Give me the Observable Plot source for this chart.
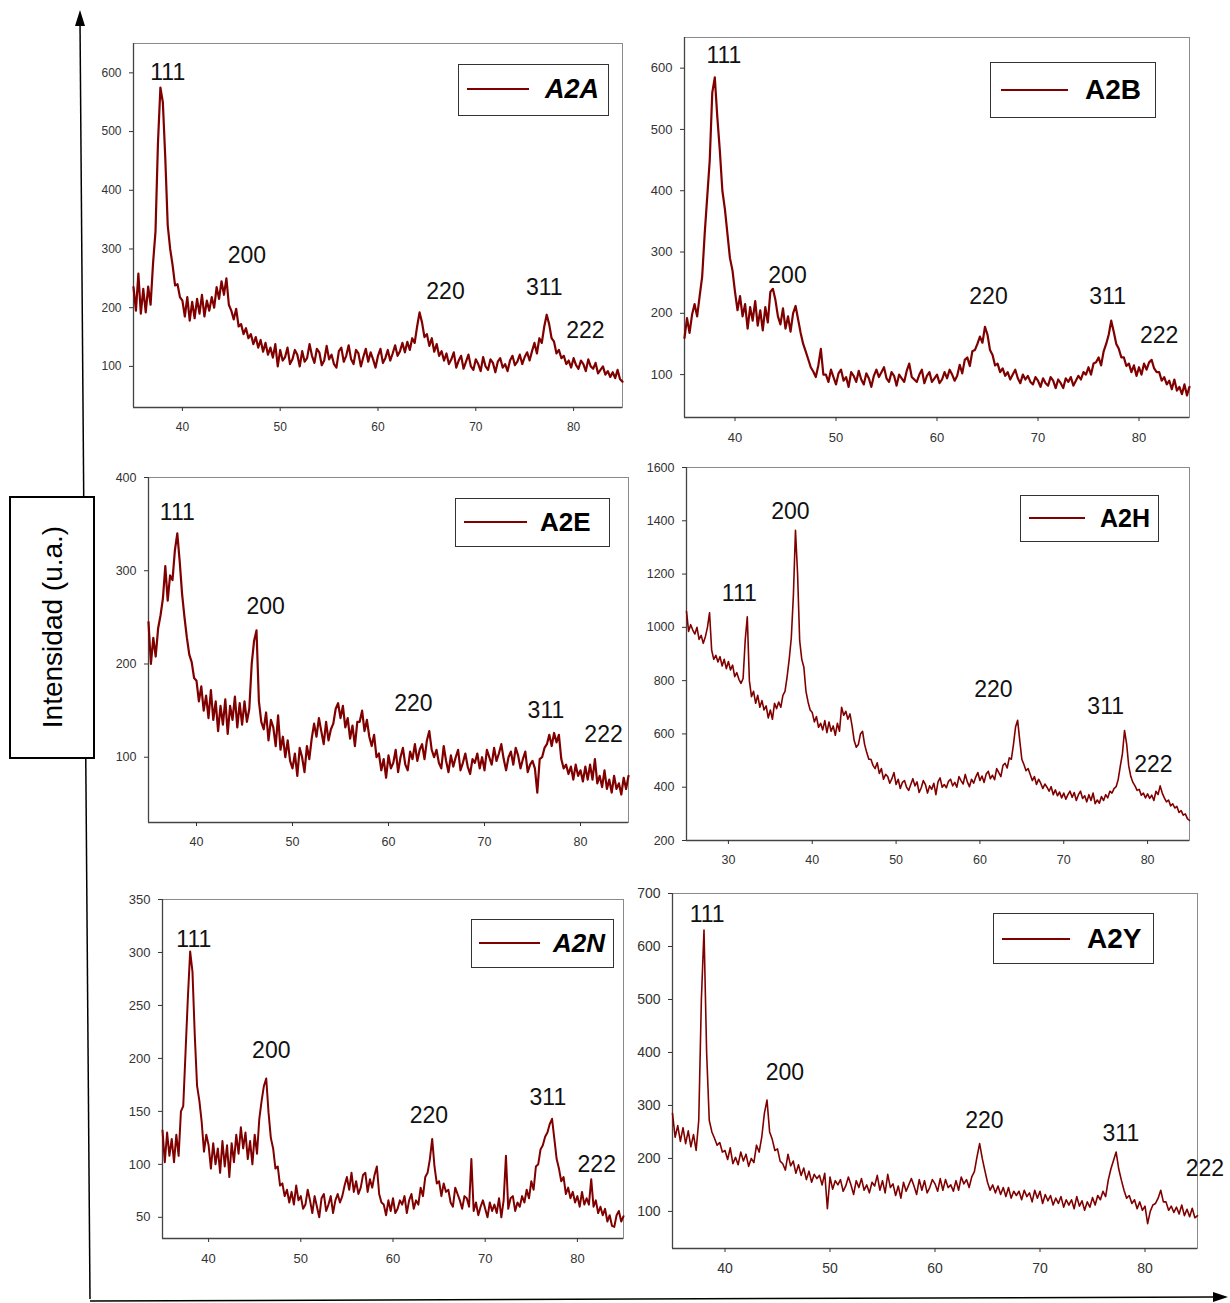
<!DOCTYPE html>
<html><head><meta charset="utf-8">
<script src="https://cdn.jsdelivr.net/npm/d3@7"></script>
<script src="https://cdn.jsdelivr.net/npm/@observablehq/plot@0.6"></script>
<style>
body{margin:0;background:#fff;}
#page{position:relative;width:1230px;height:1303px;overflow:hidden;background:#fff;font-family:"Liberation Sans",Arial,sans-serif;}
.panel{position:absolute;}
.legbox{position:absolute;border:1px solid #333;background:#fff;box-sizing:border-box;}
.legline{position:absolute;height:2px;background:#800000;}
.legtext{position:absolute;font-weight:bold;color:#000;line-height:1;white-space:nowrap;}
</style></head><body><div id="page"></div>
<script>
const STEP = 0.25;
// intensities sampled every 0.25 deg (2theta)
const a2aStart = 35;
const a2a = [
235,195,258,190, 232,192,236,205, 276,330,480,575, 550,455,340,300, 272,238,240,218,
212,185,218,178, 210,182,215,190, 222,185,212,195, 218,200,235,215, 245,222,250,205,
195,180,198,168, 172,155,165,148, 155,138,150,132, 145,125,140,120, 132,115,138,100,
128,110,116,132, 104,112,128,120, 100,126,108,114, 138,118,106,130, 124,102,110,135,
112,120,104,98, 126,132,108,118, 136,112,104,128, 122,100,116,130, 108,124,112,98,
118,130,106,114, 128,110,122,136, 118,126,140,124, 142,128,148,140, 168,192,175,150,
155,135,148,125, 138,118,126,110, 122,104,112,124, 98,110,118,96, 108,120,100,94,
112,104,92,116, 100,94,112,106, 90,108,114,98, 104,92,110,118, 102,108,120,104,
116,124,110,126, 140,122,148,140, 168,188,172,148, 142,122,128,114, 118,104,110,98,
114,102,96,110, 104,92,112,100, 96,106,88,94, 100,86,92,82, 90,80,94,78, 74];
const a2bStart = 35;
const a2b = [
160,192,168,198, 215,195,228,260, 330,390,450,560, 585,520,465,400, 370,330,290,270,
235,205,228,195, 215,175,210,188, 220,180,205,172, 210,185,235,240, 222,195,182,208,
175,195,170,200, 212,190,168,150, 138,125,112,105, 96,115,142,100, 100,88,108,96,
84,102,108,90, 96,80,104,98, 88,106,92,84, 102,94,80,98, 108,96,104,112,
94,88,104,98, 82,100,94,88, 106,118,96,92, 88,100,108,86, 98,104,88,94,
100,86,92,104, 94,108,100,90, 98,116,102,124, 128,114,138,140, 150,162,152,178,
165,140,132,115, 118,104,110,98, 104,92,100,108, 94,86,100,92, 98,88,84,96,
90,80,94,86, 82,96,90,78, 92,86,78,94, 88,96,82,90, 98,92,104,100,
112,100,118,120, 128,115,138,150, 165,188,170,150, 142,128,128,114, 118,104,115,98,
112,100,118,108, 120,124,110,104, 104,90,96,84, 90,76,92,74, 80,68,84,66, 80];
const a2eStart = 35;
const a2e = [
245,200,228,208, 238,252,270,305, 268,295,290,322, 340,310,275,250, 228,210,202,185,
182,160,176,150, 166,142,172,140, 160,128,155,135, 162,125,155,140, 165,132,158,135,
160,138,152,200, 225,236,160,138, 130,148,118,140, 132,112,145,108, 122,100,118,96,
88,104,80,110, 100,84,112,98, 120,136,122,142, 128,114,138,118, 130,136,152,158,
142,155,132,142, 120,134,112,138, 138,150,128,140, 122,112,124,100, 104,86,98,78,
102,88,94,108, 84,100,110,92, 86,106,98,114, 96,108,114,98, 118,128,108,100,
108,94,88,112, 96,84,102,90, 100,108,86,94, 104,90,82,98, 94,104,88,100,
86,108,100,92, 110,96,104,114, 98,86,100,106, 92,110,102,88, 98,106,84,92,
96,88,62,98, 100,110,114,124, 112,126,116,124, 98,88,92,82, 90,76,92,80,
86,74,90,76, 92,76,98,72, 80,68,86,66, 76,62,80,66, 72,60,78,66, 80];
const a2hStart = 25;
const a2h = [
1060,985,1010,990, 975,1000,955,970, 940,965,1000,1055, 915,880,895,870, 890,855,880,845,
872,840,858,815, 830,805,790,808, 950,1040,800,740, 760,715,745,700, 725,690,705,660,
690,655,715,695, 720,700,745,760, 814,880,960,1120, 1364,1200,950,880, 850,760,720,690,
680,645,665,625, 640,615,650,605, 645,610,630,595, 640,610,700,670, 685,655,675,630,
575,550,560,600, 610,560,530,505, 505,482,470,492, 452,470,430,448, 440,415,432,455,
410,430,395,418, 425,400,388,410, 432,405,420,380, 398,425,410,378, 405,392,415,372,
420,435,400,410, 398,422,430,405, 418,400,440,425, 412,448,420,402, 430,415,438,455,
425,442,418,450, 460,432,445,428, 470,455,440,482, 490,472,510,505, 560,626,651,576,
505,485,462,470, 448,425,440,410, 430,415,395,412, 400,385,402,372, 390,368,382,360,
378,355,372,385, 362,380,350,372, 385,358,368,345, 372,350,378,338, 352,340,365,350,
372,360,385,378, 395,402,430,480, 526,613,563,480, 440,418,405,388, 392,370,378,360,
375,358,370,350, 385,372,405,378, 360,345,352,330, 338,322,328,305, 312,295,300,282, 275];
const a2nStart = 35;
const a2n = [
132,102,130,108, 124,102,128,108, 150,155,206,257, 301,282,222,174, 160,140,112,128,
118,96,120,100, 115,92,122,98, 118,88,120,102, 128,110,135,115, 130,105,122,100,
128,110,143,160, 174,181,149,125, 115,96,98,80, 82,70,76,64, 74,62,80,66,
70,58,62,76, 66,54,70,60, 50,68,72,56, 62,70,54,66, 72,64,70,80,
88,76,92,74, 84,72,78,90, 92,74,86,78, 90,98,72,64, 62,52,66,56,
68,54,58,66, 62,70,54,66, 72,58,66,62, 78,70,88,92, 105,124,98,82,
84,70,82,74, 76,64,60,78, 72,66,58,70, 68,60,105,56, 64,52,60,66,
58,50,64,56, 62,54,68,50, 66,108,58,68, 70,56,64,60, 70,64,76,68,
84,76,98,100, 114,118,126,130, 138,143,124,105, 96,84,88,72, 78,68,74,64,
70,60,74,62, 68,62,86,60, 66,54,60,52, 58,46,52,42, 41,52,56,46, 51];
const a2yStart = 35;
const a2y = [
285,240,262,232, 258,228,252,222, 245,215,272,500, 631,400,272,250, 238,225,230,212,
215,198,220,190, 202,188,212,195, 208,185,200,192, 225,212,240,285, 310,250,236,215,
218,195,190,178, 208,186,195,172, 188,168,182,160, 176,155,170,162, 168,150,172,105,
165,142,158,150, 160,138,148,165, 150,132,158,145, 162,140,150,135, 155,148,168,140,
158,135,170,145, 152,130,148,125, 155,138,150,162, 148,132,160,140, 158,135,145,160,
152,138,162,140, 160,145,150,138, 158,140,165,152, 160,145,165,175, 203,228,200,177,
155,140,150,135, 148,132,145,128, 145,125,138,130, 138,122,140,128, 135,118,140,125,
138,115,132,120, 130,112,125,115, 128,108,122,112, 122,105,128,110, 120,102,118,108,
126,112,130,122, 138,128,159,180, 196,212,180,159, 140,125,130,115, 122,105,118,102,
110,77,100,112, 115,125,140,118, 118,102,110,98, 108,95,112,92, 104,90,106,88, 92];

// peak labels (Miller indices) in data coordinates
const hkl = ["111","200","220","311","222"];
const a2aLabX = [38.5, 46.6, 66.9, 77.0, 81.2], a2aLabY = [600, 289, 228, 234, 161];
const a2bLabX = [38.9, 45.2, 65.1, 76.9, 82.0], a2bLabY = [620, 261, 227, 227, 164];
const a2eLabX = [38.0, 47.2, 62.6, 76.4, 82.4], a2eLabY = [362, 262, 157, 150, 124];
const a2hLabX = [31.3, 37.4, 61.6, 75.0, 80.7], a2hLabY = [1127, 1435, 767, 703, 485];
const a2nLabX = [38.4, 46.8, 63.9, 76.8, 82.1], a2nLabY = [312, 207, 146, 163, 100];
const a2yLabX = [38.3, 45.7, 64.7, 77.7, 85.7], a2yLabY = [660, 362, 272, 247, 181];

const panels = [
 {name:"A2A", ys:a2a, x0:a2aStart, lx:a2aLabX, ly:a2aLabY, left:133, top:43, w:489, h:364, xd:[35,85], yd:[30,650],
  xt:[40,50,60,70,80], yt:[100,200,300,400,500,600], fs:12, sw:2.2, italic:true,
  leg:{x:458,y:64,w:151,h:52,lx:467,lw:62,ly:89,tx:545,fs:27}},
 {name:"A2B", ys:a2b, x0:a2bStart, lx:a2bLabX, ly:a2bLabY, left:684, top:37, w:505, h:380, xd:[35,85], yd:[30,650],
  xt:[40,50,60,70,80], yt:[100,200,300,400,500,600], fs:13, sw:2.2, italic:false,
  leg:{x:990,y:62,w:166,h:56,lx:1001,lw:67,ly:90,tx:1085,fs:28}},
 {name:"A2E", ys:a2e, x0:a2eStart, lx:a2eLabX, ly:a2eLabY, left:148, top:477, w:480, h:345, xd:[35,85], yd:[30,400],
  xt:[40,50,60,70,80], yt:[100,200,300,400], fs:12.5, sw:2.2, italic:false,
  leg:{x:455,y:498,w:155,h:49,lx:464,lw:63,ly:522,tx:540,fs:26}},
 {name:"A2H", ys:a2h, x0:a2hStart, lx:a2hLabX, ly:a2hLabY, left:686, top:467, w:503, h:373, xd:[25,85], yd:[200,1600],
  xt:[30,40,50,60,70,80], yt:[200,400,600,800,1000,1200,1400,1600], fs:12.5, sw:1.6, italic:false,
  leg:{x:1020,y:495,w:139,h:47,lx:1029,lw:56,ly:518,tx:1100,fs:25}},
 {name:"A2N", ys:a2n, x0:a2nStart, lx:a2nLabX, ly:a2nLabY, left:162, top:899, w:461, h:339, xd:[35,85], yd:[30,350],
  xt:[40,50,60,70,80], yt:[50,100,150,200,250,300,350], fs:13, sw:2, italic:true,
  leg:{x:471,y:919,w:143,h:49,lx:479,lw:61,ly:943,tx:553,fs:26}},
 {name:"A2Y", ys:a2y, x0:a2yStart, lx:a2yLabX, ly:a2yLabY, left:672, top:893, w:525, h:355, xd:[35,85], yd:[30,700],
  xt:[40,50,60,70,80], yt:[100,200,300,400,500,600,700], fs:14, sw:1.6, italic:false,
  leg:{x:993,y:913,w:161,h:51,lx:1002,lw:68,ly:939,tx:1087,fs:28}}
];

const page = document.getElementById("page");
const COLOR = "#800000";

// big decorative axes + y label
const deco = d3.create("svg").attr("width",1230).attr("height",1303)
  .style("position","absolute").style("left","0px").style("top","0px");
deco.append("line").attr("x1",90).attr("y1",1299).attr("x2",80).attr("y2",22).attr("stroke","#000").attr("stroke-width",1.5);
deco.append("polygon").attr("points","80,10 75,26 85,26").attr("fill","#000");
deco.append("line").attr("x1",90).attr("y1",1301).attr("x2",1214).attr("y2",1297).attr("stroke","#000").attr("stroke-width",1.5);
deco.append("polygon").attr("points","1228,1297 1213,1292 1213,1302").attr("fill","#000");
deco.append("rect").attr("x",10).attr("y",497).attr("width",84).attr("height",261).attr("fill","#fff").attr("stroke","#000").attr("stroke-width",2);
deco.append("text").attr("transform","translate(55,627) rotate(-90)").attr("text-anchor","middle").attr("dominant-baseline","middle")
  .attr("font-family","Liberation Sans, Arial, sans-serif").attr("font-size",28).text("Intensidad (u.a.)");
page.appendChild(deco.node());

for (const p of panels) {
  const data = p.ys.map((v,i) => ({x: p.x0 + i*STEP, y: v}));
  const labels = hkl.map((t,i) => ({t, x: p.lx[i], y: p.ly[i]}));
  const mL = 50, mR = p.name === "A2Y" ? 40 : 10, mT = 10, mB = 32;
  const chart = Plot.plot({
    width: p.w + mL + mR, height: p.h + mT + mB,
    marginLeft: mL, marginRight: mR, marginTop: mT, marginBottom: mB,
    style: {fontFamily: "Liberation Sans, Arial, sans-serif", background: "transparent", overflow: "visible"},
    x: {domain: p.xd}, y: {domain: p.yd},
    marks: [
      Plot.frame({stroke: "#8a8a8a"}),
      Plot.ruleX([p.xd[0]], {stroke: "#444", strokeWidth: 1.3}),
      Plot.ruleY([p.yd[0]], {stroke: "#444", strokeWidth: 1.3}),
      Plot.axisX({ticks: p.xt, tickSize: 4, tickPadding: 11, fontSize: p.fs, label: null, color: "#333", tickFormat: d => String(d)}),
      Plot.axisY({ticks: p.yt, tickSize: 4, tickPadding: 8, fontSize: p.fs, label: null, color: "#333", tickFormat: d => String(d)}),
      Plot.line(data, {x: "x", y: "y", stroke: COLOR, strokeWidth: p.sw, strokeLinejoin: "round"}),
      Plot.text(labels, {x: "x", y: "y", text: "t", fontSize: 23, fill: "#111", textAnchor: "middle", lineAnchor: "middle"})
    ]
  });
  chart.classList.add("panel");
  chart.style.left = (p.left - mL) + "px";
  chart.style.top = (p.top - mT) + "px";
  page.appendChild(chart);

  const L = p.leg;
  const box = document.createElement("div");
  box.className = "legbox";
  Object.assign(box.style, {left: L.x+"px", top: L.y+"px", width: L.w+"px", height: L.h+"px"});
  page.appendChild(box);
  const ln = document.createElement("div");
  ln.className = "legline";
  Object.assign(ln.style, {left: L.lx+"px", top: (L.ly-1)+"px", width: L.lw+"px"});
  page.appendChild(ln);
  const tx = document.createElement("div");
  tx.className = "legtext";
  tx.textContent = p.name;
  Object.assign(tx.style, {left: L.tx+"px", top: (L.ly - L.fs*0.5)+"px", fontSize: L.fs+"px", fontStyle: p.italic ? "italic" : "normal"});
  page.appendChild(tx);
}
</script>
</body></html>
